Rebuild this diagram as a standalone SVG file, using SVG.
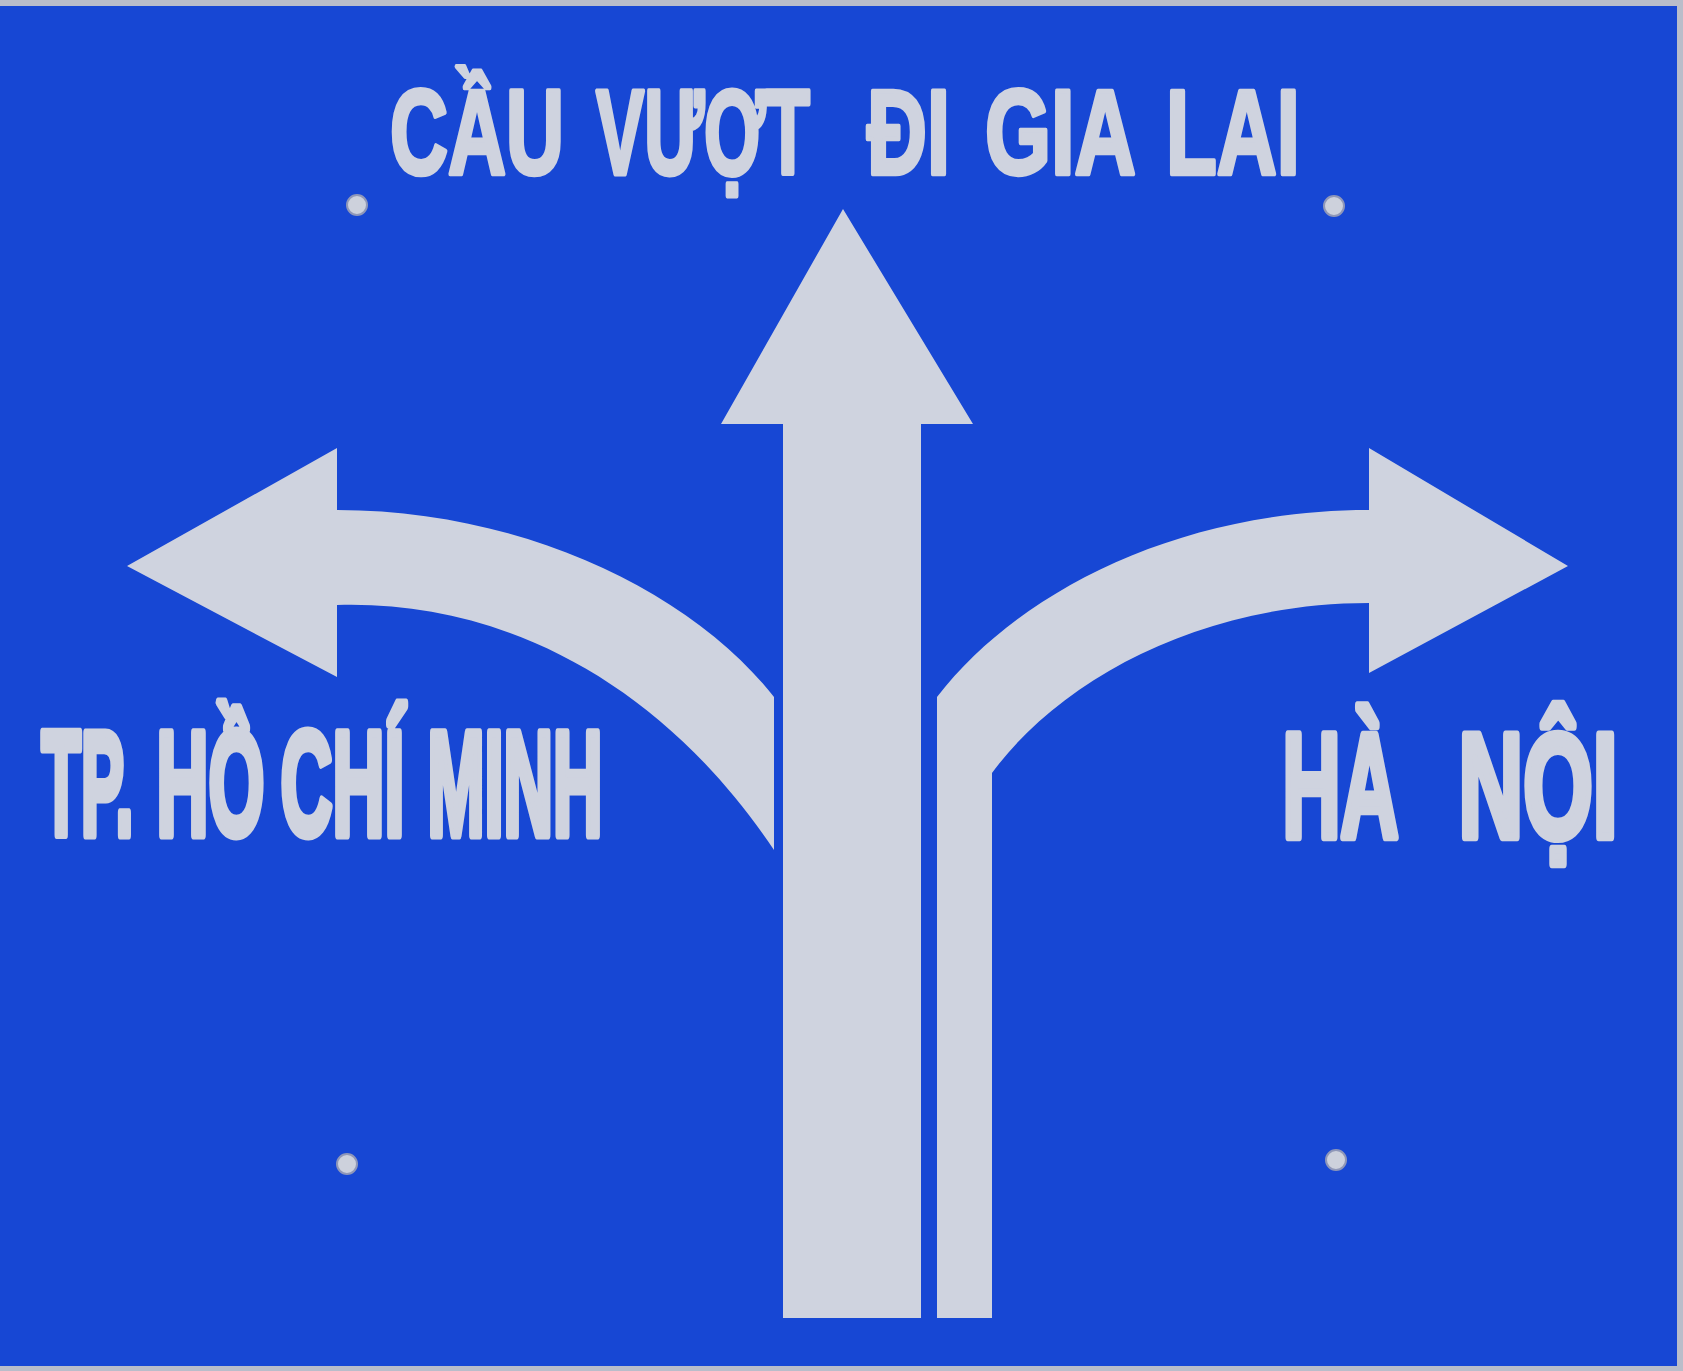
<svg xmlns="http://www.w3.org/2000/svg" width="1683" height="1371" viewBox="0 0 1683 1371">
<defs>
<style>
.sign{fill:#1747d4}
.w{fill:#cfd3df}
.t{font-family:"Liberation Sans","DejaVu Sans",sans-serif;font-weight:bold;fill:#cfd3df;stroke:#cfd3df;stroke-linejoin:round;vector-effect:non-scaling-stroke}
.top{font-size:121px;stroke-width:4px}
.lab{font-size:148px;stroke-width:7px}
.bolt{fill:#cdd1dc;stroke:#8f97b8;stroke-width:2}
</style>
</defs>
<rect x="0" y="0" width="1683" height="1371" fill="#b9bdca"/>
<rect class="sign" x="0" y="6" width="1677" height="1360"/>
<g id="bolts">
<circle class="bolt" cx="357" cy="205" r="10"/>
<circle class="bolt" cx="1334" cy="206" r="10"/>
<circle class="bolt" cx="347" cy="1164" r="10"/>
<circle class="bolt" cx="1336" cy="1160" r="10"/>
</g>
<g id="title">
<text class="t top" transform="translate(390,174) scale(0.664,1)" x="0" y="0" textLength="262" lengthAdjust="spacingAndGlyphs">CẦU</text>
<text class="t top" transform="translate(596,174) scale(0.604,1)" x="0" y="0" textLength="354" lengthAdjust="spacingAndGlyphs">VƯỢT</text>
<text class="t top" transform="translate(867,174) scale(0.686,1)" x="0" y="0" textLength="121" lengthAdjust="spacingAndGlyphs">ĐI</text>
<text class="t top" transform="translate(985,174) scale(0.702,1)" x="0" y="0" textLength="215" lengthAdjust="spacingAndGlyphs">GIA</text>
<text class="t top" transform="translate(1166,174) scale(0.687,1)" x="0" y="0" textLength="195" lengthAdjust="spacingAndGlyphs">LAI</text>
</g>
<g id="arrow-straight">
<path class="w" d="M843,209 L973,424 L921,424 L921,1318 L783,1318 L783,424 L721,424 Z"/>
</g>
<g id="arrow-left">
<path class="w" d="M127,566 L337,448 L337,510 C520,510 690,590 774,697 L774,850 C660,680 500,600 337,605 L337,677 Z"/>
</g>
<g id="arrow-right">
<path class="w" d="M1568,566 L1369,448 L1369,510 C1180,510 1020,590 937,697 L937,1318 L992,1318 L992,773 C1060,680 1200,603 1369,603 L1369,673 Z"/>
</g>
<g id="label-hcm">
<text class="t lab" transform="translate(41.5,835) scale(0.4,1)" x="0" y="0" textLength="230" lengthAdjust="spacingAndGlyphs">TP.</text>
<text class="t lab" transform="translate(156.5,835) scale(0.486,1)" x="0" y="0" textLength="222" lengthAdjust="spacingAndGlyphs">HỒ</text>
<text class="t lab" transform="translate(280.5,835) scale(0.486,1)" x="0" y="0" textLength="255" lengthAdjust="spacingAndGlyphs">CHÍ</text>
<text class="t lab" transform="translate(427.5,835) scale(0.463,1)" x="0" y="0" textLength="378" lengthAdjust="spacingAndGlyphs">MINH</text>
</g>
<g id="label-hanoi">
<text class="t lab" transform="translate(1282.5,837) scale(0.542,1)" x="0" y="0" textLength="214" lengthAdjust="spacingAndGlyphs">HÀ</text>
<text class="t lab" transform="translate(1458.5,837) scale(0.605,1)" x="0" y="0" textLength="263" lengthAdjust="spacingAndGlyphs">NỘI</text>
</g>
</svg>
